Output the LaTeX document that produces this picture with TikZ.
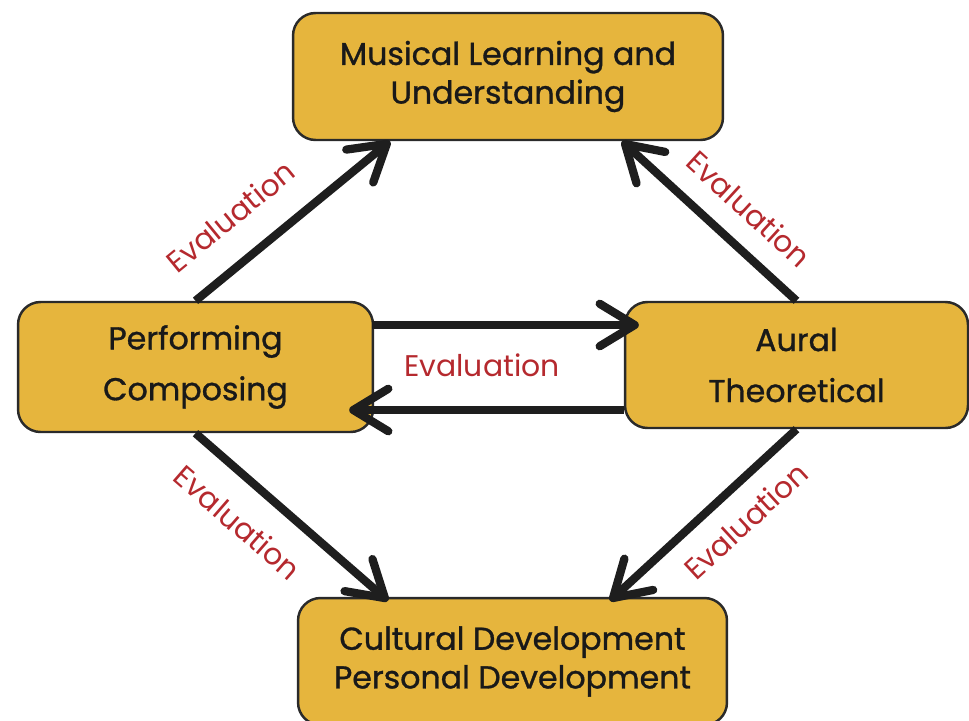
\documentclass[tikz,border=0pt]{standalone}
\usepackage{fontspec}
\setmainfont{Poppins}
\newfontfamily\boxfont{Poppins}[FakeBold=1]
\usetikzlibrary{
    arrows.meta,
    positioning,
    calc
}
\definecolor{boxgold}{HTML}{E6B53D}
\definecolor{boxline}{HTML}{2A2A2A}
\definecolor{evalred}{HTML}{B5292E}
\definecolor{arrowgrey}{HTML}{1E1E1E}
\tikzset{
    % Colors
    gold box/.style={fill=boxgold, draw=boxline},
    eval color/.style={text=evalred},
    %
    % Arrows
    arrow tip/.tip={Straight Barb[length=7mm,width=8.5mm,round]},
    arr/.style={->,>={arrow tip},line width=4.7pt,draw=arrowgrey},
    %
    % Labels
    eval label/.style={eval color,inner sep=0pt,font=\fontsize{17}{20}\selectfont}
}

\begin{document}
\begin{tikzpicture}
        [
            x=0.02cm, y=-0.02cm,
            area node/.style={rectangle,gold box,line width=1.4pt,rounded corners=0.45cm,align=center,text=black!90,font=\boxfont\fontsize{18}{22}\selectfont},
            side node/.style={area node,font=\boxfont\fontsize{18}{29}\selectfont}
        ]
        \useasboundingbox (0,0) rectangle (969,720);
        \node[area node, minimum width=8.6cm, minimum height=2.54cm] (MLU) at (508,76.5) {Musical Learning and\\Understanding};
        \node[side node, minimum width=7.1cm, minimum height=2.6cm] (PC) at (195.5,367) {Performing\\Composing};
        \node[side node, minimum width=6.86cm, minimum height=2.52cm] (AT) at (796.5,365) {Aural\\Theoretical};
        \node[area node, minimum width=8.58cm, minimum height=2.54cm] (CPD) at (512.5,661.5) {Cultural Development\\Personal Development};
        \draw[arr] (PC.north) -- ($(MLU.south)+(-118,0)$) node[eval label, sloped, pos=.32, above=0.55cm] {Evaluation};
        \draw[arr] (AT.north) -- ($(MLU.south)+(114,0)$) node[eval label, sloped, pos=.41, above=0.4cm] {Evaluation};
        \draw[arr] ($(PC.east)+(-2,-42)$) -- ($(AT.west)+(15,-40)$);
        \draw[arr] ($(AT.west)+(0,45)$) -- ($(PC.east)+(-25,43)$);
        \draw[arr] (PC.south) -- ($(CPD.north)+(-124.5,4)$) node[eval label, sloped, pos=.354, below=0.48cm] {Evaluation};
        \draw[arr] (AT.south) -- ($(CPD.north)+(97.5,4)$) node[eval label, sloped, pos=.393, below=0.35cm] {Evaluation};
        \node[eval label] (EM) at (482,365) {Evaluation};
    \end{tikzpicture}
\end{document}
